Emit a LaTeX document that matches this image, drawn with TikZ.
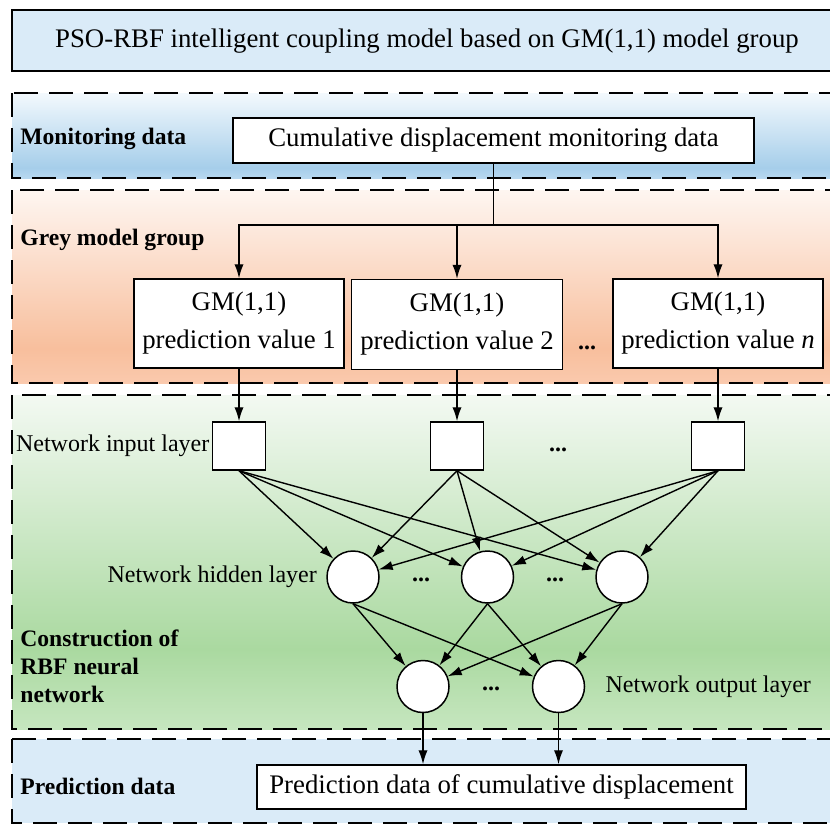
\documentclass[tikz,border=0pt]{standalone}
\usepackage{fontspec}
\setmainfont{Liberation Serif}
\usetikzlibrary{arrows.meta}

\definecolor{skyfill}{HTML}{DAEBF8}
\definecolor{montop}{HTML}{F3F9FD}
\definecolor{mondeep}{HTML}{A6CEEA}
\definecolor{monbot}{HTML}{B8D8EF}
\definecolor{greytop}{HTML}{FEF6F1}
\definecolor{greydeep}{HTML}{F8BF9D}
\definecolor{greybot}{HTML}{FAC9AD}
\definecolor{rbftop}{HTML}{F3F9F2}
\definecolor{rbfdeep}{HTML}{AAD9A0}
\definecolor{rbfbot}{HTML}{C6E6BF}

% band shadings, colours placed in the 25bp--75bp part that covers the path
\pgfdeclareverticalshading{monshade}{100bp}{color(0bp)=(monbot); color(25bp)=(monbot);
  color(31bp)=(mondeep); color(75bp)=(montop); color(100bp)=(montop)}
\pgfdeclareverticalshading{greyshade}{100bp}{color(0bp)=(greybot); color(25bp)=(greybot);
  color(34bp)=(greydeep); color(75bp)=(greytop); color(100bp)=(greytop)}
\pgfdeclareverticalshading{rbfshade}{100bp}{color(0bp)=(rbfbot); color(25bp)=(rbfbot);
  color(37bp)=(rbfdeep); color(75bp)=(rbftop); color(100bp)=(rbftop)}

\newcommand\bigfont{\fontsize{13.4pt}{19pt}\selectfont}
\newcommand\smallfont{\fontsize{12pt}{14pt}\selectfont}
\newcommand\tagfont{\fontsize{11.8pt}{14pt}\selectfont\bfseries}

\begin{document}
\begin{tikzpicture}[x=0.5pt,y=-0.5pt,
    band/.style={draw=black,line width=1pt,dash pattern=on 12pt off 5.5pt},
    gmbox/.style={draw=black,line width=0.75pt,fill=white,inner sep=0pt,align=center,font=\bigfont},
    inbox/.style={draw=black,line width=0.75pt,fill=white,minimum width=26.5pt,minimum height=24pt,inner sep=0pt},
    neuron/.style={circle,draw=black,line width=0.75pt,fill=white,minimum size=26pt,inner sep=0pt},
    tag/.style={font=\tagfont,anchor=west,inner sep=0pt,align=left},
    note/.style={font=\smallfont,inner sep=0pt},
    dots/.style={font=\smallfont\bfseries,inner sep=0pt,anchor=base},
    wire/.style={line width=0.7pt},
    arr/.style={line width=0.7pt,-{Latex[length=7pt,width=4.6pt]}}]

    \clip (0,0) rectangle (830,825);

    % title bar and the four dashed bands
    \draw[fill=skyfill,line width=0.75pt] (12,10) rectangle (850,71);
    \node[font=\bigfont,inner sep=0pt] (title) at (427,41) {PSO-RBF intelligent coupling model based on GM(1,1) model group};

    \shadedraw[band,shading=monshade] (12,93) rectangle (850,178);
    \shadedraw[band,shading=greyshade] (12,190) rectangle (850,383);
    \shadedraw[band,shading=rbfshade] (12,395) rectangle (850,729);
    \draw[band,fill=skyfill] (12,739) rectangle (850,823);

    \node[tag] (montag) at (20,139) {Monitoring data};
    \node[tag] (greytag) at (20,240) {Grey model group};
    \node[tag] (rbftag) at (20,666) {Construction of\\RBF neural\\network};
    \node[tag] (predtag) at (20,786) {Prediction data};

    % data boxes
    \node[gmbox,minimum width=260.5pt,minimum height=22.5pt] (mon) at (493.5,140.5) {Cumulative displacement monitoring data};
    \node[gmbox,minimum width=105pt,minimum height=44.5pt] (gm1) at (239,323.5) {GM(1,1)\\prediction value 1};
    \node[gmbox,minimum width=105.5pt,minimum height=45pt] (gm2) at (457,324.5) {GM(1,1)\\prediction value 2};
    \node[gmbox,minimum width=105pt,minimum height=44.5pt] (gm3) at (718,323.5) {GM(1,1)\\prediction value \textit{n}};
    \node[dots] at (587,349) {...};

    % network layers
    \node[inbox] (in1) at (239,446) {};
    \node[inbox] (in2) at (457,446) {};
    \node[inbox] (in3) at (718,446) {};
    \node[dots] at (558,451) {...};
    \node[note,anchor=east] (inlbl) at ([xshift=-1pt]in1.west) {Network input layer};

    \node[neuron] (hid1) at (353,577) {};
    \node[neuron] (hid2) at (487.5,577) {};
    \node[neuron] (hid3) at (622,577) {};
    \node[dots] at (421,581) {...};
    \node[dots] at (555,581) {...};
    \node[note,anchor=east] (hidlbl) at ([xshift=-4.5pt]hid1.west) {Network hidden layer};

    \node[neuron] (out1) at (423,686.5) {};
    \node[neuron] (out2) at (558.5,686.5) {};
    \node[dots] at (491,690) {...};
    \node[note,anchor=west] (outlbl) at ([xshift=10pt]out2.east) {Network output layer};

    \node[gmbox,minimum width=244.5pt,minimum height=22pt] (pred) at (501.5,787) {Prediction data of cumulative displacement};

    % connectors
    \coordinate (fork) at (493.5,225);
    \draw[wire] (mon.south) -- (fork);
    \draw[arr] (fork) -| (gm1.north);
    \draw[arr] (fork) -| (gm3.north);
    \draw[arr] (gm2.north |- fork) -- (gm2.north);

    \foreach \i in {1,2,3}
        \draw[arr] (gm\i.south) -- (in\i.north);
    \foreach \i in {1,2,3}
        \foreach \j in {1,2,3}
            \draw[arr] (in\i.south) -- (hid\j);
    \foreach \j in {1,2,3}
        \foreach \k in {1,2}
            \draw[arr] (hid\j.south) -- (out\k);
    \foreach \k in {1,2}
        \draw[arr] (out\k.south) -- (out\k.south |- pred.north);

\end{tikzpicture}
\end{document}
